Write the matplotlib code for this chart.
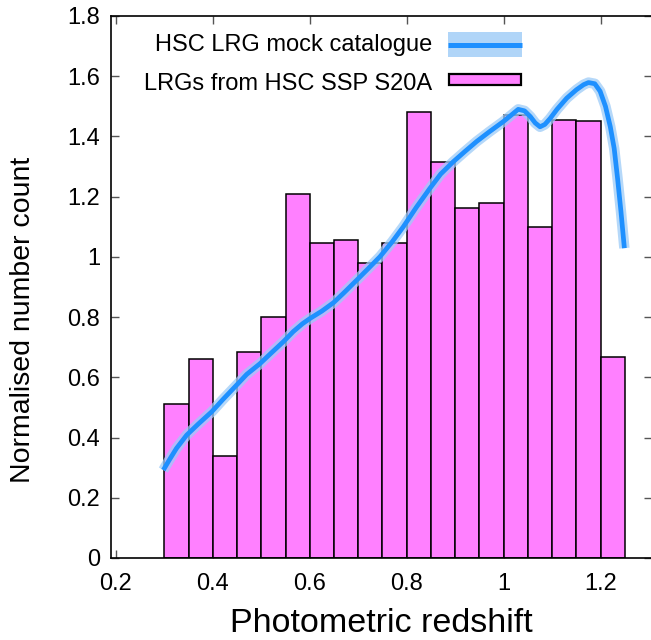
import matplotlib
matplotlib.use("Agg")
import matplotlib.pyplot as plt
from matplotlib.patches import Rectangle
from matplotlib.lines import Line2D

plt.rcParams['font.family'] = ['Liberation Sans', 'DejaVu Sans']

# HSC SSP S20A LRG histogram (bin left edges, width 0.05)
bin_edges = [0.30, 0.35, 0.40, 0.45, 0.50, 0.55, 0.60, 0.65, 0.70, 0.75,
             0.80, 0.85, 0.90, 0.95, 1.00, 1.05, 1.10, 1.15, 1.20]
bin_width = 0.05
counts = [0.51, 0.662, 0.34, 0.683, 0.801, 1.21, 1.045, 1.056, 0.979, 1.045,
          1.48, 1.315, 1.161, 1.18, 1.47, 1.098, 1.453, 1.45, 0.667]

# mock catalogue n(z)
mock_z = [0.298, 0.31, 0.325, 0.346, 0.37, 0.398, 0.42, 0.446, 0.47, 0.497,
          0.52, 0.546, 0.566, 0.585, 0.601, 0.625, 0.649, 0.67, 0.697, 0.72,
          0.745, 0.77, 0.793, 0.82, 0.848, 0.87, 0.896, 0.92, 0.944, 0.97,
          0.999, 1.015, 1.03, 1.043, 1.055, 1.065, 1.075, 1.085, 1.096, 1.11,
          1.13, 1.15, 1.165, 1.175, 1.188, 1.199, 1.21, 1.22, 1.228, 1.235,
          1.242, 1.249]
mock_n = [0.292, 0.325, 0.364, 0.408, 0.445, 0.486, 0.525, 0.569, 0.61, 0.645,
          0.68, 0.719, 0.752, 0.778, 0.796, 0.82, 0.848, 0.88, 0.923, 0.96,
          1.001, 1.05, 1.10, 1.165, 1.228, 1.275, 1.316, 1.35, 1.383, 1.415,
          1.449, 1.47, 1.49, 1.485, 1.466, 1.445, 1.432, 1.44, 1.46, 1.49,
          1.527, 1.555, 1.572, 1.579, 1.575, 1.55, 1.5, 1.432, 1.36, 1.26,
          1.15, 1.029]

pink = '#ff80ff'
blue = '#1e90ff'
band = '#9ccbf7'


class MockHandler:
    # light band with the mean curve through it
    def legend_artist(self, legend, orig_handle, fontsize, handlebox):
        w = handlebox.width
        tr = handlebox.get_transform()
        rect = Rectangle((0, -5), w, 18, facecolor=band, alpha=0.8,
                         edgecolor='none', transform=tr)
        line = Line2D([0, w], [4, 4], color=blue, lw=3.6,
                      solid_capstyle='butt', transform=tr)
        handlebox.add_artist(rect)
        handlebox.add_artist(line)
        return rect


class BarHandler:
    def legend_artist(self, legend, orig_handle, fontsize, handlebox):
        w = handlebox.width
        rect = Rectangle((0.5, 3.6), w - 1, 7.9, facecolor=pink,
                         edgecolor='black', lw=1.6,
                         transform=handlebox.get_transform())
        handlebox.add_artist(rect)
        return rect


fig = plt.figure(figsize=(6.51, 6.40), dpi=100)
ax = fig.add_axes([111 / 651, 82 / 640, 541 / 651, 542 / 640])

bars = ax.bar(bin_edges, counts, width=bin_width, align='edge', color=pink,
              edgecolor='black', linewidth=1.1, zorder=2)
ax.plot(mock_z, mock_n, color=band, lw=7.5, alpha=0.75,
        solid_capstyle='butt', zorder=3)
mock_line, = ax.plot(mock_z, mock_n, color=blue, lw=3.4,
                     solid_capstyle='butt', zorder=4)

ax.set_xlim(0.19, 1.306)
ax.set_ylim(0, 1.8)
ax.set_xticks([0.2, 0.4, 0.6, 0.8, 1.0, 1.2])
ax.set_xticklabels(['0.2', '0.4', '0.6', '0.8', '1', '1.2'])
ax.set_yticks([0, 0.2, 0.4, 0.6, 0.8, 1.0, 1.2, 1.4, 1.6, 1.8])
ax.set_yticklabels(['0', '0.2', '0.4', '0.6', '0.8', '1', '1.2', '1.4',
                    '1.6', '1.8'])
ax.tick_params(direction='in', length=6, width=1, color='#555555',
               top=True, right=True, labelsize=17)
ax.tick_params(axis='x', pad=11)
ax.tick_params(axis='y', pad=8)
for s in ax.spines.values():
    s.set_linewidth(1.2)

ax.set_xlabel('Photometric redshift', fontsize=24.5, labelpad=9)
ax.set_ylabel('Normalised number count', fontsize=20.5)
ax.yaxis.set_label_coords(-0.138, 0.439)

ax.legend([mock_line, bars],
          ['HSC LRG mock catalogue', 'LRGs from HSC SSP S20A'],
          handler_map={mock_line: MockHandler(), bars: BarHandler()},
          loc='upper right', bbox_to_anchor=(0.7597, 0.972),
          markerfirst=False, frameon=False, fontsize=17,
          handlelength=3.13, handleheight=1.1, handletextpad=0.68,
          labelspacing=0.62, borderpad=0, borderaxespad=0)

fig.savefig('out.png', dpi=100)
